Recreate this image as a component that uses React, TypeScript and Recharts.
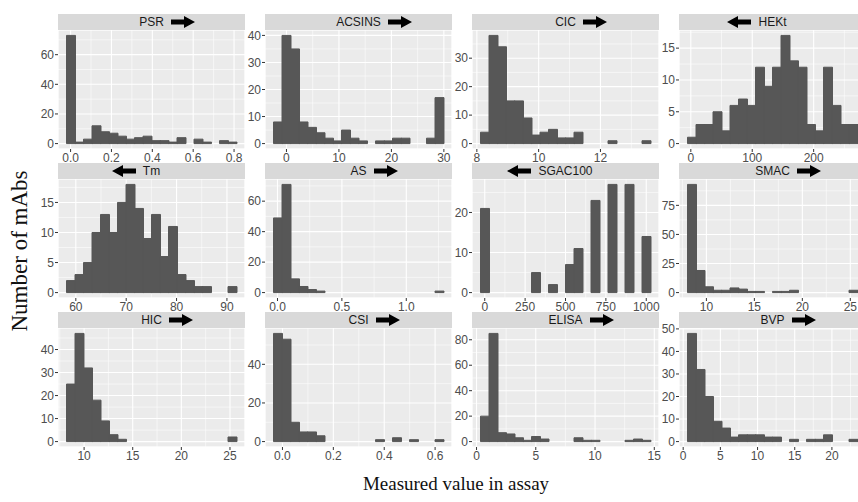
import React from 'react';
import { BarChart, Bar, XAxis, YAxis, CartesianGrid } from 'recharts';

// 20-bin histograms, counts
const psrCounts = [73, 1, 3, 12, 8, 7, 5, 3, 4, 5, 2, 2, 1, 4, 0, 3, 1, 0, 2, 1];
const acsinsCounts = [8, 40, 35, 8, 6, 4, 2, 1, 5, 2, 1, 0, 1, 1, 2, 2, 0, 0, 2, 17];
const cicCounts = [4, 38, 34, 15, 15, 9, 3, 4, 5, 2, 2, 4, 0, 0, 0, 1, 0, 0, 0, 1];
const hektCounts = [1, 3, 3, 5, 2, 6, 7, 6, 12, 9, 12, 17, 13, 12, 3, 2, 12, 6, 3, 3];
const tmCounts = [2, 3, 5, 10, 13, 10, 15, 18, 14, 9, 13, 6, 11, 3, 2, 1, 1, 0, 0, 1];
const asCounts = [49, 71, 9, 4, 2, 1, 0, 0, 0, 0, 0, 0, 0, 0, 0, 0, 0, 0, 0, 1];
const sgacCounts = [21, 0, 0, 0, 0, 0, 5, 0, 2, 0, 7, 11, 0, 23, 0, 27, 0, 27, 0, 14];
const smacCounts = [93, 19, 5, 2, 2, 4, 3, 1, 1, 0, 1, 1, 2, 0, 0, 0, 0, 0, 0, 2];
const hicCounts = [25, 47, 32, 18, 9, 3, 1, 0, 0, 0, 0, 0, 0, 0, 0, 0, 0, 0, 0, 2];
const csiCounts = [56, 53, 10, 5, 5, 3, 0, 0, 0, 0, 0, 0, 1, 0, 2, 0, 1, 0, 0, 1];
const elisaCounts = [20, 85, 7, 6, 3, 1, 4, 2, 0, 0, 0, 3, 1, 1, 0, 0, 0, 1, 2, 1];
const bvpCounts = [48, 32, 20, 9, 6, 2, 3, 3, 3, 2, 2, 0, 1, 0, 1, 1, 3, 0, 0, 1];

// outer bin edges [lo, hi] of each histogram
const psrRange = [-0.02, 0.812];
const acsinsRange = [-2.47, 29.93];
const cicRange = [8.118, 13.62];
const hektRange = [-5.4, 271.4];
const tmRange = [58.15, 91.9];
const asRange = [-0.031, 1.289];
const sgacRange = [-26.3, 1026.3];
const smacRange = [8.03, 25.75];
const hicRange = [8.19, 25.67];
const csiRange = [-0.0352, 0.633];
const elisaRange = [0.336, 14.68];
const bvpRange = [0.58, 23.44];

// tick labels
const psrX = [0, 0.2, 0.4, 0.6, 0.8];
const acsinsX = [0, 10, 20, 30];
const cicX = [8, 10, 12];
const hektX = [0, 100, 200];
const tmX = [60, 70, 80, 90];
const asX = [0, 0.5, 1.0];
const sgacX = [0, 250, 500, 750, 1000];
const smacX = [10, 15, 20, 25];
const hicX = [10, 15, 20, 25];
const csiX = [0, 0.2, 0.4, 0.6];
const elisaX = [0, 5, 10, 15];
const bvpX = [0, 5, 10, 15, 20];

const psrY = [0, 20, 40, 60];
const acsinsY = [0, 10, 20, 30, 40];
const cicY = [0, 10, 20, 30];
const hektY = [0, 5, 10, 15];
const tmY = [0, 5, 10, 15];
const asY = [0, 20, 40, 60];
const sgacY = [0, 10, 20];
const smacY = [0, 25, 50, 75];
const hicY = [0, 10, 20, 30, 40];
const csiY = [0, 20, 40];
const elisaY = [0, 20, 40, 60, 80];
const bvpY = [0, 10, 20, 30, 40, 50];

// minor grid breaks
const psrXm = [0.1, 0.3, 0.5, 0.7];
const acsinsXm = [5, 15, 25];
const cicXm = [9, 11, 13];
const hektXm = [50, 150, 250];
const tmXm = [65, 75, 85];
const asXm = [0.25, 0.75, 1.25];
const sgacXm = [125, 375, 625, 875];
const smacXm = [7.5, 12.5, 17.5, 22.5];
const hicXm = [7.5, 12.5, 17.5, 22.5];
const csiXm = [0.1, 0.3, 0.5];
const elisaXm = [2.5, 7.5, 12.5];
const bvpXm = [2.5, 7.5, 12.5, 17.5, 22.5];

const psrYm = [10, 30, 50, 70];
const acsinsYm = [5, 15, 25, 35];
const cicYm = [5, 15, 25, 35];
const hektYm = [2.5, 7.5, 12.5, 17.5];
const tmYm = [2.5, 7.5, 12.5, 17.5];
const asYm = [10, 30, 50, 70];
const sgacYm = [5, 15, 25];
const smacYm = [12.5, 37.5, 62.5, 87.5];
const hicYm = [5, 15, 25, 35, 45];
const csiYm = [10, 30, 50];
const elisaYm = [10, 30, 50, 70];
const bvpYm = [5, 15, 25, 35, 45];

const panels = [
  { name: 'PSR', dir: 'right', counts: psrCounts, range: psrRange, xt: psrX, xm: psrXm, yt: psrY, ym: psrYm, dec: 1 },
  { name: 'ACSINS', dir: 'right', counts: acsinsCounts, range: acsinsRange, xt: acsinsX, xm: acsinsXm, yt: acsinsY, ym: acsinsYm, dec: 0 },
  { name: 'CIC', dir: 'right', counts: cicCounts, range: cicRange, xt: cicX, xm: cicXm, yt: cicY, ym: cicYm, dec: 0 },
  { name: 'HEKt', dir: 'left', counts: hektCounts, range: hektRange, xt: hektX, xm: hektXm, yt: hektY, ym: hektYm, dec: 0 },
  { name: 'Tm', dir: 'left', counts: tmCounts, range: tmRange, xt: tmX, xm: tmXm, yt: tmY, ym: tmYm, dec: 0 },
  { name: 'AS', dir: 'right', counts: asCounts, range: asRange, xt: asX, xm: asXm, yt: asY, ym: asYm, dec: 1 },
  { name: 'SGAC100', dir: 'left', counts: sgacCounts, range: sgacRange, xt: sgacX, xm: sgacXm, yt: sgacY, ym: sgacYm, dec: 0 },
  { name: 'SMAC', dir: 'right', counts: smacCounts, range: smacRange, xt: smacX, xm: smacXm, yt: smacY, ym: smacYm, dec: 0 },
  { name: 'HIC', dir: 'right', counts: hicCounts, range: hicRange, xt: hicX, xm: hicXm, yt: hicY, ym: hicYm, dec: 0 },
  { name: 'CSI', dir: 'right', counts: csiCounts, range: csiRange, xt: csiX, xm: csiXm, yt: csiY, ym: csiYm, dec: 1 },
  { name: 'ELISA', dir: 'right', counts: elisaCounts, range: elisaRange, xt: elisaX, xm: elisaXm, yt: elisaY, ym: elisaYm, dec: 0 },
  { name: 'BVP', dir: 'right', counts: bvpCounts, range: bvpRange, xt: bvpX, xm: bvpXm, yt: bvpY, ym: bvpYm, dec: 0 },
];

const SANS = '"Liberation Sans", Arial, Helvetica, sans-serif';
const SERIF = '"Liberation Serif", "Times New Roman", serif';
const W = 187; // plot width
const H = 119; // plot height
const STRIP = 16;
const Y_W = 30;
const TOP_M = 8;
const RIGHT_M = 16;
const X_H = 20;
const colLeft = [58, 265, 472, 679];
const rowTop = [30, 179, 328];

const tickStyle = { fill: '#4d4d4d', fontSize: 12, fontFamily: SANS };

function Arrow({ dir }: { dir: string }) {
  const pts = '0,3.5 13,3.5 13,0 24,6 13,12 13,8.5 0,8.5';
  return (
    <svg width={24} height={12} style={{ display: 'block' }}>
      <polygon points={pts} fill="#000" transform={dir === 'left' ? 'translate(24,0) scale(-1,1)' : undefined} />
    </svg>
  );
}

function Panel({ p, left, top }: { p: (typeof panels)[number]; left: number; top: number }) {
  const [lo, hi] = p.range;
  const span = hi - lo;
  const binW = span / p.counts.length;
  const xDom = [lo - 0.05 * span, hi + 0.05 * span];
  const yMax = Math.max(...p.counts);
  const yDom = [-0.05 * yMax, 1.05 * yMax];
  const pad = W / 22;
  // mid = bin centre, so the value axes see the measured scale, not the bin index
  const data = p.counts.map((n, i) => ({ bin: i, mid: lo + (i + 0.5) * binW, n }));
  const fmt = (v: number) => v.toFixed(p.dec);

  return (
    <>
      <div style={{ position: 'absolute', left: left - Y_W, top: top - TOP_M }}>
        <BarChart
          width={Y_W + W + RIGHT_M}
          height={TOP_M + H + X_H}
          data={data}
          margin={{ top: TOP_M, right: RIGHT_M, left: 0, bottom: 0 }}
          barCategoryGap={0}
          barGap={0}
        >
          <XAxis
            xAxisId="val"
            dataKey="mid"
            type="number"
            domain={xDom}
            ticks={p.xt}
            allowDataOverflow
            interval={0}
            height={X_H}
            tickSize={3}
            tickMargin={1}
            axisLine={false}
            tickLine={{ stroke: '#333333' }}
            tick={tickStyle}
            tickFormatter={fmt}
          />
          <YAxis
            yAxisId="y"
            type="number"
            domain={yDom}
            ticks={p.yt}
            allowDataOverflow
            interval={0}
            width={Y_W}
            tickSize={3}
            tickMargin={1}
            axisLine={false}
            tickLine={{ stroke: '#333333' }}
            tick={tickStyle}
          />
          <XAxis xAxisId="bin" dataKey="bin" type="category" hide height={0} padding={{ left: pad, right: pad }} />
          <XAxis xAxisId="minor" dataKey="mid" type="number" hide height={0} domain={xDom} ticks={p.xm} allowDataOverflow />
          <YAxis yAxisId="minorY" type="number" hide width={0} domain={yDom} ticks={p.ym} allowDataOverflow />
          <CartesianGrid xAxisId="minor" yAxisId="minorY" stroke="#ffffff" strokeWidth={0.55} fill="#ebebeb" />
          <CartesianGrid xAxisId="val" yAxisId="y" stroke="#ffffff" strokeWidth={1.1} />
          <Bar
            xAxisId="bin"
            yAxisId="y"
            dataKey="n"
            fill="#575757"
            stroke="#575757"
            strokeWidth={1}
            isAnimationActive={false}
          />
        </BarChart>
      </div>
      <div
        style={{
          position: 'absolute',
          left,
          top: top - STRIP,
          width: W,
          height: STRIP,
          background: '#d9d9d9',
          fontFamily: SANS,
          fontSize: 12,
          lineHeight: `${STRIP}px`,
          color: '#1a1a1a',
          textAlign: 'center',
        }}
      >
        <span style={{ position: 'relative', display: 'inline-block' }}>
          {p.name}
          <span
            style={
              p.dir === 'left'
                ? { position: 'absolute', right: '100%', marginRight: 7, top: 2 }
                : { position: 'absolute', left: '100%', marginLeft: 7, top: 2 }
            }
          >
            <Arrow dir={p.dir} />
          </span>
        </span>
      </div>
    </>
  );
}

export default function App() {
  return (
    <div
      style={{
        position: 'absolute',
        left: 0,
        top: 0,
        width: 858,
        height: 502,
        overflow: 'hidden',
        background: '#ffffff',
      }}
    >
      {panels.map((p, i) => (
        <Panel key={p.name} p={p} left={colLeft[i % 4]} top={rowTop[Math.floor(i / 4)]} />
      ))}
      <div
        style={{
          position: 'absolute',
          left: 20,
          top: 251,
          transform: 'translate(-50%, -50%) rotate(-90deg)',
          whiteSpace: 'nowrap',
          fontFamily: SERIF,
          fontSize: 23,
          color: '#111',
        }}
      >
        Number of mAbs
      </div>
      <div
        style={{
          position: 'absolute',
          left: 456,
          top: 484,
          transform: 'translate(-50%, -50%)',
          whiteSpace: 'nowrap',
          fontFamily: SERIF,
          fontSize: 19,
          color: '#111',
        }}
      >
        Measured value in assay
      </div>
    </div>
  );
}
